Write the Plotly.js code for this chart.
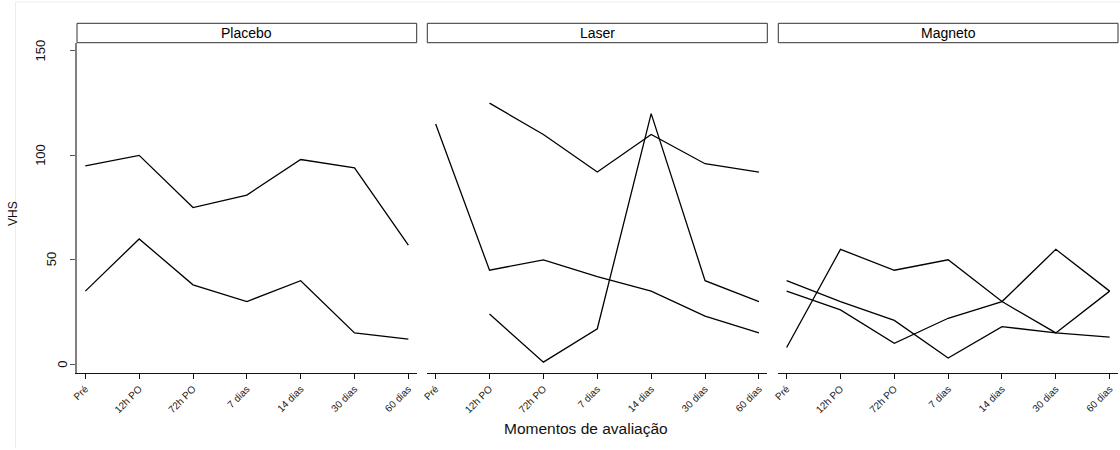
<!DOCTYPE html>
<html>
<head>
<meta charset="utf-8">
<script src="https://cdn.plot.ly/plotly-3.0.1.min.js"></script>
<style>html,body{margin:0;padding:0;background:#fff;}#chart{width:1120px;height:450px;}</style>
</head>
<body>
<div id="chart"></div>
<script>
// ---- data ----
const categories = ['Pré', '12h PO', '72h PO', '7 dias', '14 dias', '30 dias', '60 dias'];
const panels = ['Placebo', 'Laser', 'Magneto'];
const placebo1 = [95, 100, 75, 81, 98, 94, 57];
const placebo2 = [35, 60, 38, 30, 40, 15, 12];
const laser1 = [115, 45, 50, 42, 35, 23, 15];
const laser2 = [null, 125, 110, 92, 110, 96, 92];
const laser3 = [null, 24, 1, 17, 120, 40, 30];
const magneto1 = [8, 55, 45, 50, 30, 15, 35];
const magneto2 = [40, 30, 21, 3, 18, 15, 13];
const magneto3 = [35, 26, 10, 22, 30, 55, 35];
const yTicks = [0, 50, 100, 150];
const yTitle = 'VHS';
const xTitle = 'Momentos de avaliação';

const seriesByPanel = [[placebo1, placebo2], [laser1, laser2, laser3], [magneto1, magneto2, magneto3]];

const FONT = 'Arial, "Liberation Sans", Helvetica, sans-serif';
const W = 1120, H = 450;
const ML = 77, MR = 2, MT = 43, MB = 77;
const plotW = W - ML - MR;
const px2x = p => (p - ML) / plotW;
const px2y = p => (H - MB - p) / (H - MT - MB);

const domains = [[0, px2x(416.7)], [px2x(427.3), px2x(767.3)], [px2x(778.3), 1]];

const traces = [];
seriesByPanel.forEach((list, i) => {
  list.forEach(vals => {
    traces.push({
      type: 'scatter', mode: 'lines',
      x: categories, y: vals,
      xaxis: i === 0 ? 'x' : 'x' + (i + 1),
      yaxis: i === 0 ? 'y' : 'y' + (i + 1),
      line: {color: '#000', width: 1.3},
      connectgaps: false,
      hoverinfo: 'skip', showlegend: false
    });
  });
});

const layout = {
  width: W, height: H,
  margin: {l: ML, r: MR, t: MT, b: MB, pad: 0},
  paper_bgcolor: '#fff', plot_bgcolor: '#fff',
  font: {family: FONT, color: '#000'},
  showlegend: false,
  shapes: [],
  annotations: []
};

const yRange = [-4.2, 153.8];
const xRange = [-0.155, 6.155];

domains.forEach((d, i) => {
  const xa = i === 0 ? 'xaxis' : 'xaxis' + (i + 1);
  const ya = i === 0 ? 'yaxis' : 'yaxis' + (i + 1);
  layout[xa] = {
    domain: d, anchor: i === 0 ? 'y' : 'y' + (i + 1),
    type: 'category', categoryorder: 'array', categoryarray: categories,
    range: xRange, fixedrange: true,
    showgrid: false, zeroline: false,
    showline: true, linecolor: '#111', linewidth: 1.3,
    ticks: 'outside', ticklen: 5, tickcolor: '#111', tickwidth: 1,
    tickangle: -45, tickfont: {size: 10, family: FONT, color: '#222'}
  };
  layout[ya] = {
    domain: [0, 1], anchor: i === 0 ? 'x' : 'x' + (i + 1),
    range: yRange, fixedrange: true,
    showgrid: false, zeroline: false,
    showline: i === 0, linecolor: '#808080', linewidth: 2,
    ticks: i === 0 ? 'outside' : '', ticklen: 5, tickcolor: '#555', tickwidth: 1,
    tickmode: 'array', tickvals: yTicks,
    showticklabels: false
  };
  // strip
  layout.shapes.push({
    type: 'rect', xref: 'paper', yref: 'paper',
    x0: d[0], x1: d[1], y0: px2y(42.7), y1: px2y(23.3),
    line: {color: '#333', width: 1}, fillcolor: '#fff', layer: 'above'
  });
  layout.annotations.push({
    xref: 'paper', yref: 'paper', x: (d[0] + d[1]) / 2, y: px2y(33),
    text: panels[i], showarrow: false, xanchor: 'center', yanchor: 'middle',
    font: {size: 14, family: FONT, color: '#000'}
  });
});

// y tick labels (rotated)
yTicks.forEach(v => {
  const n = String(v).length;
  layout.annotations.push({
    xref: 'paper', yref: 'y', x: 0, y: v, text: String(v),
    showarrow: false, textangle: -90, xanchor: 'center', yanchor: 'middle',
    xshift: -(3.5 + 11 * n),
    font: {size: 13, family: FONT, color: '#111'}
  });
});

// axis titles
layout.annotations.push({
  xref: 'paper', yref: 'paper', x: px2x(13), y: px2y(214), text: yTitle,
  showarrow: false, textangle: -90, xanchor: 'center', yanchor: 'middle',
  font: {size: 12, family: FONT, color: '#111'}
});
layout.annotations.push({
  xref: 'paper', yref: 'paper', x: px2x(585.8), y: px2y(428), text: xTitle,
  showarrow: false, xanchor: 'center', yanchor: 'middle',
  font: {size: 15.5, family: FONT, color: '#111'}
});

// faint outer frame
layout.shapes.push({type: 'line', xref: 'paper', yref: 'paper', x0: px2x(15.5), x1: px2x(15.5), y0: px2y(448), y1: px2y(2), line: {color: '#ececec', width: 1}});
layout.shapes.push({type: 'line', xref: 'paper', yref: 'paper', x0: px2x(15.5), x1: px2x(1120), y0: px2y(2), y1: px2y(2), line: {color: '#ececec', width: 1}});

Plotly.newPlot('chart', traces, layout, {staticPlot: true, displayModeBar: false});
</script>
</body>
</html>
